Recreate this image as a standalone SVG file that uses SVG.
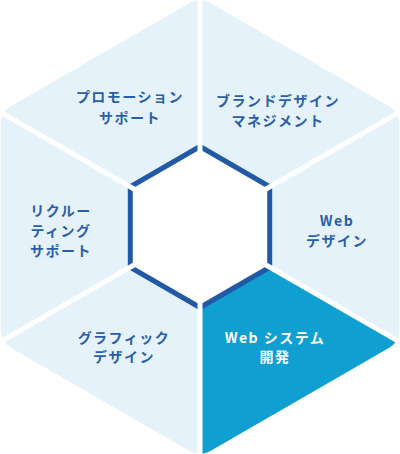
<svg xmlns="http://www.w3.org/2000/svg" width="400" height="454" viewBox="0 0 400 454">
<style>
.lbl{font-family:"Noto Sans CJK JP","Noto Sans",sans-serif;font-weight:700;font-size:14px;letter-spacing:1.5px;text-anchor:middle;fill:#2a5ea9}
.lbl.on{fill:#ffffff}
.sep{stroke:#ffffff;stroke-width:5}
</style>
<defs>
<clipPath id="outer">
<path d="M189.6,3 Q200,-3 210.4,3 L388.8,106 Q399.2,112 399.2,124 L399.2,330 Q399.2,342 388.8,348 L210.4,451 Q200,457 189.6,451 L11.2,348 Q0.8,342 0.8,330 L0.8,124 Q0.8,112 11.2,106 Z"/>
</clipPath>
</defs>
<g id="segments" clip-path="url(#outer)">
<rect x="0" y="0" width="400" height="454" fill="#e5f2f9"/>
<polygon id="seg-web-system-fill" points="200,227 460,377 200,527" fill="#0f9fd0"/>
</g>
<g id="inner">
<polygon points="200,146.5 269.7,186.75 269.7,267.25 200,307.5 130.3,267.25 130.3,186.75" fill="#ffffff" stroke="#2159a6" stroke-width="5"/>
</g>
<g id="connectors">
<line class="sep" x1="200" y1="227" x2="200" y2="-10"/>
<line class="sep" x1="200" y1="227" x2="410" y2="106"/>
<line class="sep" x1="200" y1="227" x2="410" y2="348"/>
<line class="sep" x1="200" y1="227" x2="200" y2="464"/>
<line class="sep" x1="200" y1="227" x2="-10" y2="348"/>
<line class="sep" x1="200" y1="227" x2="-10" y2="106"/>
</g>
<g id="promotion"><text class="lbl" x="130" y="102">プロモーション</text><text class="lbl" x="130" y="123">サポート</text></g>
<g id="brand"><text class="lbl" x="278" y="106">ブランドデザイン</text><text class="lbl" x="278" y="126">マネジメント</text></g>
<g id="web-design"><text class="lbl" x="337" y="226">Web</text><text class="lbl" x="337" y="246">デザイン</text></g>
<g id="web-system"><text class="lbl on" x="275" y="343">Web システム</text><text class="lbl on" x="275" y="362">開発</text></g>
<g id="graphic"><text class="lbl" x="124" y="343">グラフィック</text><text class="lbl" x="124" y="362">デザイン</text></g>
<g id="recruiting"><text class="lbl" x="61" y="216">リクルー</text><text class="lbl" x="61" y="236">ティング</text><text class="lbl" x="61" y="256">サポート</text></g>
</svg>
